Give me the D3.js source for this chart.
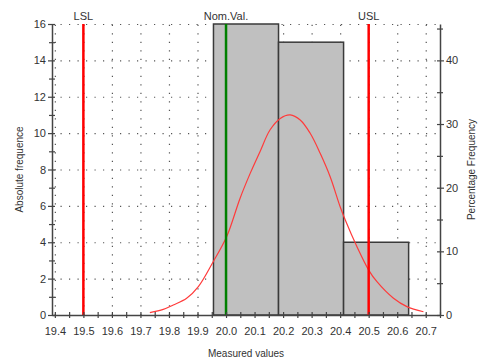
<!DOCTYPE html>
<html>
<head>
<meta charset="utf-8">
<script src="https://cdn.jsdelivr.net/npm/d3@7"></script>
<style>
  body { margin: 0; background: #fff; }
  text { font-family: "Liberation Sans", Arial, sans-serif; fill: #333; }
</style>
</head>
<body>
<div id="wrapper"></div>
<script>
/* DATA */
const binEdges = [19.956, 20.184, 20.412, 20.64];
const binCounts = [16, 15, 4];
const totalCount = 35;

const xTicks = [19.4, 19.5, 19.6, 19.7, 19.8, 19.9, 20.0, 20.1, 20.2, 20.3, 20.4, 20.5, 20.6, 20.7];
const yTicks = [0, 2, 4, 6, 8, 10, 12, 14, 16];
const pctTicks = [0, 10, 20, 30, 40];

const limitNames = ["LSL", "Nom.Val.", "USL"];
const limitValues = [19.5, 20.0, 20.5];
const limitColors = ["#ff0000", "#008000", "#ff0000"];

// fitted curve (absolute frequence units)
const curveX = [19.733, 19.78, 19.815, 19.862, 19.903, 19.955, 20.002, 20.049, 20.085, 20.119, 20.154, 20.19,
  20.225, 20.26, 20.295, 20.33, 20.365, 20.4, 20.418, 20.459, 20.5, 20.529, 20.587, 20.634, 20.692];
const curveY = [0.13, 0.31, 0.55, 0.92, 1.56, 2.93, 4.3, 6.41, 7.8, 8.98, 10.17, 10.81,
  11.0, 10.72, 9.99, 8.89, 7.6, 5.95, 5.22, 3.75, 2.47, 1.83, 0.92, 0.46, 0.18];

/* DIMENSIONS */
const width = 480;
const height = 361;
const margin = { top: 24, right: 40, bottom: 46, left: 52 };
const boundedWidth = width - margin.left - margin.right;
const boundedHeight = height - margin.top - margin.bottom;

/* SCALES */
const xScale = d3.scaleLinear().domain([19.39, 20.75]).range([0, boundedWidth]);
const yScale = d3.scaleLinear().domain([0, 16]).range([boundedHeight, 0]);
const pctScale = d3.scaleLinear().domain([0, 16 / totalCount * 100]).range([boundedHeight, 0]);

const svg = d3.select("#wrapper").append("svg")
  .attr("width", width)
  .attr("height", height);

const bounds = svg.append("g")
  .attr("transform", `translate(${margin.left},${margin.top})`);

/* GRID */
const gridStyle = g => {
  g.select(".domain").remove();
  g.selectAll("text").remove();
  g.selectAll("line")
    .attr("stroke", "#555")
    .attr("stroke-width", 1.2)
    .attr("stroke-dasharray", "1.2,7.3");
};
bounds.append("g")
  .attr("transform", `translate(0,${boundedHeight})`)
  .call(d3.axisBottom(xScale).tickValues(xTicks).tickSize(-boundedHeight))
  .call(gridStyle);
bounds.append("g")
  .call(d3.axisLeft(yScale).tickValues(yTicks.slice(1)).tickSize(-boundedWidth))
  .call(gridStyle);

/* BARS */
const bins = binCounts.map((c, i) => ({ x0: binEdges[i], x1: binEdges[i + 1], count: c }));
bounds.selectAll(".bar")
  .data(bins)
  .enter().append("rect")
  .attr("class", "bar")
  .attr("x", d => xScale(d.x0))
  .attr("width", d => xScale(d.x1) - xScale(d.x0))
  .attr("y", d => yScale(d.count))
  .attr("height", d => boundedHeight - yScale(d.count))
  .attr("fill", "#c0c0c0")
  .attr("stroke", "#3a3a3a")
  .attr("stroke-width", 1.5);

/* CURVE */
const curvePoints = curveX.map((x, i) => [x, curveY[i]]);
bounds.append("path")
  .attr("d", d3.line().x(d => xScale(d[0])).y(d => yScale(d[1])).curve(d3.curveCatmullRom)(curvePoints))
  .attr("fill", "none")
  .attr("stroke", "#ff3b3b")
  .attr("stroke-width", 1.2);

/* LIMIT LINES */
limitValues.forEach((v, i) => {
  bounds.append("line")
    .attr("x1", xScale(v)).attr("x2", xScale(v))
    .attr("y1", 0).attr("y2", boundedHeight)
    .attr("stroke", limitColors[i])
    .attr("stroke-width", 2.5);
  bounds.append("text")
    .attr("x", xScale(v))
    .attr("y", -4)
    .attr("text-anchor", "middle")
    .attr("font-size", 11)
    .text(limitNames[i]);
});

/* AXES */
const axisStyle = g => {
  g.select(".domain").attr("stroke", "#444").attr("stroke-width", 1.5);
  g.selectAll(".tick line").attr("stroke", "#444").attr("stroke-width", 1.2);
  g.selectAll(".tick text").attr("font-size", 11).attr("fill", "#333");
};

// bottom axis: labelled ticks every 0.1, minor every 0.05, ticks cross the line
const xMinor = d3.range(19.4, 20.751, 0.05);
bounds.append("g")
  .attr("transform", `translate(0,${boundedHeight})`)
  .call(d3.axisBottom(xScale).tickValues(xMinor).tickSize(0).tickFormat(""))
  .call(axisStyle)
  .call(g => g.selectAll(".tick line").attr("y1", -3).attr("y2", 3));
bounds.append("g")
  .attr("transform", `translate(0,${boundedHeight})`)
  .call(d3.axisBottom(xScale).tickValues(xTicks).tickSize(0).tickPadding(12).tickFormat(d3.format(".1f")))
  .call(axisStyle)
  .call(g => g.select(".domain").remove());

// left axis
bounds.append("g")
  .call(d3.axisLeft(yScale).tickValues(d3.range(0, 17, 1)).tickSize(0).tickFormat(""))
  .call(axisStyle)
  .call(g => g.selectAll(".tick line").attr("x1", d => d % 2 ? -3 : -4).attr("x2", 3));
bounds.append("g")
  .call(d3.axisLeft(yScale).tickValues(yTicks).tickSize(0).tickPadding(6))
  .call(axisStyle)
  .call(g => g.select(".domain").remove());

// right axis (percentage)
bounds.append("g")
  .attr("transform", `translate(${boundedWidth},0)`)
  .call(d3.axisRight(pctScale).tickValues(d3.range(0, 46, 5)).tickSize(0).tickFormat(""))
  .call(axisStyle)
  .call(g => g.selectAll(".tick line").attr("x1", -3).attr("x2", d => d % 10 ? 3 : 4));
bounds.append("g")
  .attr("transform", `translate(${boundedWidth},0)`)
  .call(d3.axisRight(pctScale).tickValues(pctTicks).tickSize(0).tickPadding(6))
  .call(axisStyle)
  .call(g => g.select(".domain").remove());

/* AXIS TITLES */
svg.append("text")
  .attr("x", margin.left + boundedWidth / 2)
  .attr("y", 357)
  .attr("text-anchor", "middle")
  .attr("font-size", 10)
  .text("Measured values");

svg.append("text")
  .attr("transform", `translate(23,${margin.top + boundedHeight / 2}) rotate(-90)`)
  .attr("text-anchor", "middle")
  .attr("font-size", 10)
  .text("Absolute frequence");

svg.append("text")
  .attr("transform", `translate(475,${margin.top + boundedHeight / 2}) rotate(-90)`)
  .attr("text-anchor", "middle")
  .attr("font-size", 10)
  .text("Percentage Frequency");
</script>
</body>
</html>
